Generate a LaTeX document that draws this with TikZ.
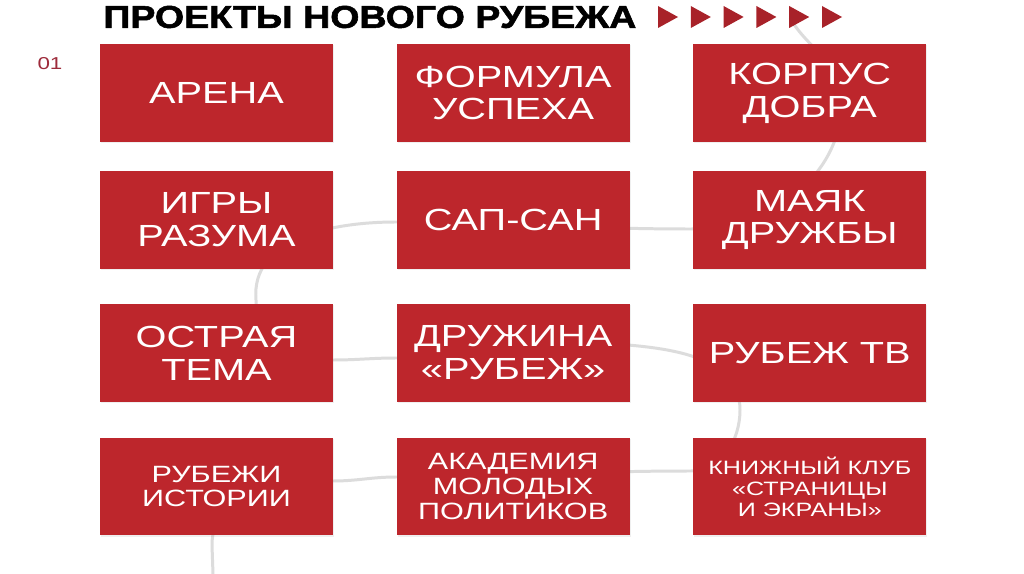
\documentclass[tikz,border=0pt]{standalone}
\usepackage{graphicx}
\usepackage{fontspec}
\usepackage{xcolor}
\usepackage{tikz}
\usetikzlibrary{positioning,backgrounds,shadows}
\newfontfamily\boxfont[FakeStretch=1.3]{Liberation Sans}
\newfontfamily\headfont[BoldFeatures={FakeBold=1.6}]{Liberation Sans}
\definecolor{rubred}{HTML}{BD262C}
\definecolor{arrowred}{HTML}{A82229}
\definecolor{numred}{HTML}{9E2B3B}
\definecolor{trailgray}{HTML}{DCDCDC}

\begin{document}
\begin{tikzpicture}[x=0.02cm,y=0.02cm,
    proj/.style={fill=rubred,minimum width=4.66cm,minimum height=1.96cm,
                 inner sep=0pt,align=center,text=white,
                 drop shadow={opacity=0.12,shadow xshift=0.5pt,shadow yshift=-0.7pt}},
    txtbig/.style={font=\boxfont\fontsize{17.4}{18.7}\selectfont},
    txtmid/.style={font=\boxfont\fontsize{13.4}{14}\selectfont},
    txtsmall/.style={font=\boxfont\fontsize{11}{12}\selectfont},
    trail/.style={draw=trailgray,line width=1.7pt}]
  \useasboundingbox (0,0) rectangle (1024,-574);

  % heading
  \node[anchor=west,inner sep=0pt] (title) at (103,-17)
    {\resizebox{10.66cm}{0.44cm}{\headfont\bfseries ПРОЕКТЫ НОВОГО РУБЕЖА}};
  \foreach \i in {0,...,5}
    \fill[arrowred] ({658+32.8*\i},-6) -- ++(20,-11) -- ++(-20,-11) -- cycle;
  \node[font=\boxfont\fontsize{9.8}{10}\selectfont,text=numred] (num) at (50,-64) {01};

  % project boxes
  \node[proj,txtbig] (arena) at (216.5,-93) {АРЕНА};
  \node[proj,txtbig,right=1.26cm of arena] (formula) {ФОРМУЛА\\УСПЕХА};
  \node[proj,txtbig,right=1.26cm of formula] (korpus) {КОРПУС\\ДОБРА};

  \node[proj,txtbig] (igry) at (216.5,-220) {ИГРЫ\\РАЗУМА};
  \node[proj,txtbig,right=1.26cm of igry] (sapsan) {САП-САН};
  \node[proj,txtbig,right=1.26cm of sapsan] (mayak) {МАЯК\\ДРУЖБЫ};

  \node[proj,txtbig] (ostraya) at (216.5,-353) {ОСТРАЯ\\ТЕМА};
  \node[proj,txtbig,right=1.26cm of ostraya] (druzhina) {ДРУЖИНА\\«РУБЕЖ»};
  \node[proj,txtbig,right=1.26cm of druzhina] (rubtv) {РУБЕЖ ТВ};

  \node[proj,txtmid] (rubezhi) at (216.5,-486.5) {РУБЕЖИ\\ИСТОРИИ};
  \node[proj,txtmid,right=1.26cm of rubezhi] (akademiya) {АКАДЕМИЯ\\МОЛОДЫХ\\ПОЛИТИКОВ};
  \node[proj,txtsmall,right=1.26cm of akademiya] (knizhny) {КНИЖНЫЙ КЛУБ\\«СТРАНИЦЫ\\И ЭКРАНЫ»};

  % grey trail behind the boxes
  \coordinate (tstart) at (790,-18);
  \coordinate (tend) at (213,-574);
  \begin{pgfonlayer}{background}
    \fill[white] (0,0) rectangle (1024,-574);
    \draw[trail] (tstart) to[out=-60,in=90] (842,-100)
      to[out=-90,in=0] (691,-229) to[out=180,in=0] (396,-222)
      to[out=180,in=95] (256,-300) to[out=-90,in=180] (333,-360)
      to[out=0,in=180] (396,-358) to[out=0,in=185] (628,-345)
      to[out=-5,in=90] (740,-410) to[out=-90,in=0] (691,-471)
      to[out=180,in=0] (396,-477) to[out=180,in=0] (333,-481)
      to[out=180,in=90] (212,-545) -- (tend);
  \end{pgfonlayer}
\end{tikzpicture}
\end{document}
